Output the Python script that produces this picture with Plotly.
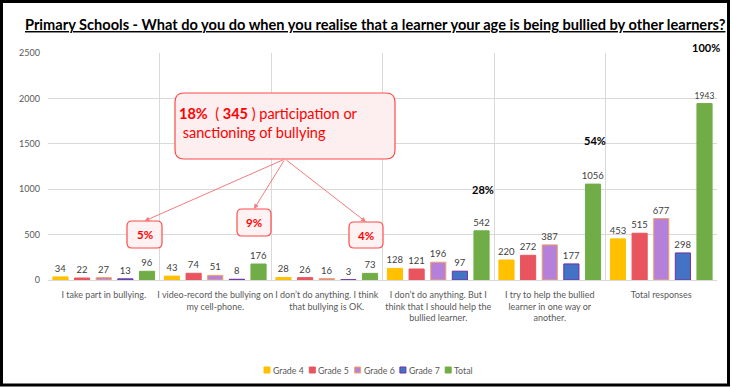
import plotly.graph_objects as go

categories = [
    "I take part in bullying.",
    "I video-record the bullying on<br>my cell-phone.",
    "I don\u2019t do anything. I think<br>that bullying is OK.",
    "I don\u2019t do anything. But I<br>think that I should help the<br>bullied learner.",
    "I try to help the bullied<br>learner in one way or<br>another.",
    "Total responses",
]
series_names = ["Grade 4", "Grade 5", "Grade 6", "Grade 7", "Total"]
grade4 = [34, 43, 28, 128, 220, 453]
grade5 = [22, 74, 26, 121, 272, 515]
grade6 = [27, 51, 16, 196, 387, 677]
grade7 = [13, 8, 3, 97, 177, 298]
total = [96, 176, 73, 542, 1056, 1943]
y_ticks = [0, 500, 1000, 1500, 2000, 2500]

fills = ["#FFC000", "#E8555F", "#B580D9", "#4472C4", "#70AD47"]
borders = ["#FFC000", "#E8555F", "#F4A460", "#7030A0", "#70AD47"]

W, H = 732, 387
L, R, T, B = 48, 717, 53, 280
FONT = "Lato"


def px(x):
    return (x - L) / (R - L)


def py(y):
    return (B - y) / (B - T)


def rrect(x0, y0, x1, y1, r):
    pts = [
        ("M", [(x0 + r, y0)]),
        ("L", [(x1 - r, y0)]),
        ("Q", [(x1, y0), (x1, y0 + r)]),
        ("L", [(x1, y1 - r)]),
        ("Q", [(x1, y1), (x1 - r, y1)]),
        ("L", [(x0 + r, y1)]),
        ("Q", [(x0, y1), (x0, y1 - r)]),
        ("L", [(x0, y0 + r)]),
        ("Q", [(x0, y0), (x0 + r, y0)]),
    ]
    s = ""
    for cmd, ps in pts:
        s += cmd + " " + " ".join(f"{px(a):.5f},{py(b):.5f}" for a, b in ps) + " "
    return s + "Z"


def note(x, y, text, size, color, xanchor="center", yanchor="middle", **kw):
    return dict(xref="paper", yref="paper", x=px(x), y=py(y), text=text, showarrow=False,
                xanchor=xanchor, yanchor=yanchor,
                font=dict(size=size, color=color, family=FONT), **kw)


fig = go.Figure()
data = [grade4, grade5, grade6, grade7, total]
for name, vals, fc, bc in zip(series_names, data, fills, borders):
    sizes = [8.5 if (name == "Total" and v > 1500) else 9.5 for v in vals]
    fig.add_trace(go.Bar(
        x=categories, y=vals, name=name,
        marker=dict(color=fc, line=dict(color=bc, width=1)),
        text=[str(v) for v in vals], textposition="outside",
        textfont=dict(size=sizes, color="#404040", family=FONT),
        constraintext="none", cliponaxis=False, showlegend=False,
        hoverinfo="skip",
    ))

shapes = []
annotations = []

# outer frame
shapes.append(dict(type="rect", xref="paper", yref="paper",
                   x0=px(1.5), x1=px(728.5), y0=py(1.5), y1=py(385),
                   line=dict(color="black", width=3), fillcolor="rgba(0,0,0,0)"))

# title
annotations.append(note(375, 25,
                        "<b><u>Primary Schools - What do you do when you realise that a learner your age is being bullied by other learners?</u></b>",
                        14.6, "#000000"))

# big callout
shapes.append(dict(type="path", xref="paper", yref="paper", path=rrect(175, 93, 395, 159, 9),
                   fillcolor="#FDEEEF", line=dict(color="#FF4B4B", width=1.2), layer="above"))
annotations.append(note(177, 123, "<b>18%</b>  ( <b>345</b> ) participation or<br> sanctioning of bullying",
                        14.5, "#FF0000", xanchor="left", align="left"))

# small boxes
small = [("5%", 127, 221, 162, 248), ("9%", 237, 209, 271, 236), ("4%", 349, 222, 383, 248)]
for txt, x0, y0, x1, y1 in small:
    shapes.append(dict(type="path", xref="paper", yref="paper", path=rrect(x0, y0, x1, y1, 5),
                       fillcolor="#FFF2F2", line=dict(color="#FF4B4B", width=1.2), layer="above"))
    annotations.append(note((x0 + x1) / 2, (y0 + y1) / 2, f"<b>{txt}</b>", 11.5, "#FF0000"))
    tipx = (x0 + x1) / 2
    annotations.append(dict(xref="paper", yref="paper", x=px(tipx), y=py(y0), text="",
                            showarrow=True, arrowhead=2, arrowsize=1, arrowwidth=1,
                            arrowcolor="#F47C7C", ax=285 - tipx, ay=159 - y0))

# percent labels
for txt, x, y in [("28%", 483, 189), ("54%", 595, 140), ("100%", 706, 47)]:
    annotations.append(note(x, y, f"<b>{txt}</b>", 11, "#000000"))

# legend (custom)
lx = 264
for name, fc, bc in zip(series_names, fills, borders):
    shapes.append(dict(type="rect", xref="paper", yref="paper",
                       x0=px(lx), x1=px(lx + 6), y0=py(373), y1=py(367),
                       fillcolor=fc, line=dict(color=bc, width=1)))
    annotations.append(note(lx + 7, 370, name, 8.8, "#595959", xanchor="left"))
    lx += 45.3

fig.update_layout(
    width=W, height=H,
    margin=dict(l=L, r=W - R, t=T, b=H - B, autoexpand=False),
    paper_bgcolor="white", plot_bgcolor="white",
    barmode="group", bargap=0.03, bargroupgap=0.3,
    font=dict(family=FONT, color="#595959"),
    shapes=shapes, annotations=annotations,
    showlegend=False,
    xaxis=dict(type="category", tickson="boundaries", showgrid=True, gridcolor="#D9D9D9",
               showline=True, linecolor="#D9D9D9", ticks="", tickangle=0, automargin=False,
               tickfont=dict(size=9, color="#595959"), ticklabelstandoff=6, fixedrange=True),
    yaxis=dict(range=[0, 2500], tickvals=y_ticks, showgrid=True, gridcolor="#D9D9D9",
               zeroline=False, showline=False, tickfont=dict(size=9, color="#595959"),
               automargin=False, ticklabelstandoff=7, fixedrange=True),
)
fig.write_html("out.html", config={"displayModeBar": False},
               post_script="document.body.style.margin='0px';document.body.style.overflow='hidden';")
